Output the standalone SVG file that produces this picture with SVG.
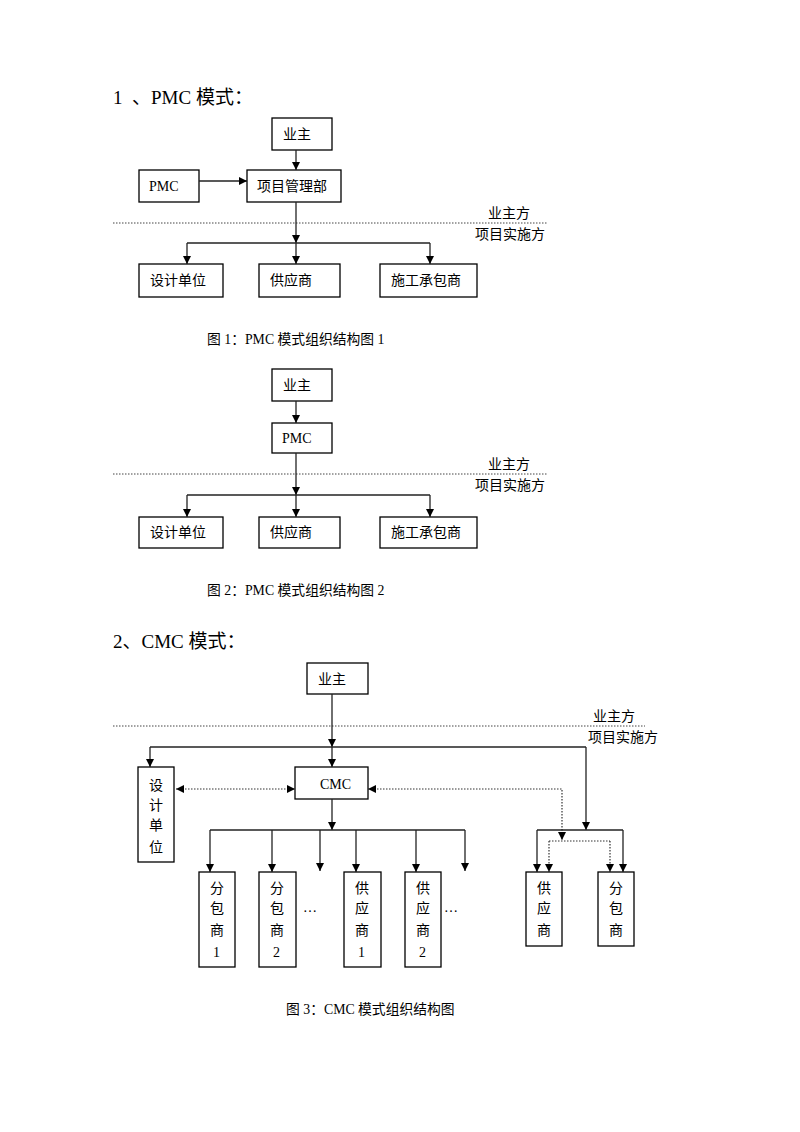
<svg xmlns="http://www.w3.org/2000/svg" width="800" height="1132" viewBox="0 0 800 1132">
<style>
.bx{fill:#fff;stroke:#000;stroke-width:1.3}
.t{font-family:"Liberation Serif","Noto Sans CJK SC",serif;font-size:14px;fill:#000}
.h{font-family:"Liberation Serif","Noto Sans CJK SC",serif;font-size:19px;fill:#000}
.c{font-family:"Liberation Serif","Noto Sans CJK SC",serif;font-size:13.8px;fill:#000}
.ln{fill:none;stroke:#222;stroke-width:1.3}
.dt{fill:none;stroke:#333;stroke-width:1.2;stroke-dasharray:1.5 1.5}
.sep{fill:none;stroke:#444;stroke-width:1;stroke-dasharray:1.5 1.5}
</style>
<defs>
<marker id="ah" viewBox="0 0 10 10" refX="10" refY="5" markerWidth="9" markerHeight="8" orient="auto-start-reverse" markerUnits="userSpaceOnUse"><path d="M0,0L10,5L0,10z" fill="#000"/></marker>
</defs>
<rect width="800" height="1132" fill="#fff"/>

<!-- Figure 1 -->
<text class="h" x="113" y="104" xml:space="preserve">1  、PMC 模式：</text>
<g id="f1-owner"><rect class="bx" x="272" y="118" width="60" height="32"/><text class="t" x="283" y="139">业主</text></g>
<g id="f1-pmc"><rect class="bx" x="139" y="170" width="60" height="32"/><text class="t" x="149" y="191">PMC</text></g>
<g id="f1-dept"><rect class="bx" x="247" y="170" width="94" height="32"/><text class="t" x="257" y="191">项目管理部</text></g>
<g id="f1-design"><rect class="bx" x="139" y="264" width="84" height="33"/><text class="t" x="150" y="285">设计单位</text></g>
<g id="f1-supplier"><rect class="bx" x="259" y="264" width="81" height="33"/><text class="t" x="270" y="285">供应商</text></g>
<g id="f1-contractor"><rect class="bx" x="380" y="264" width="97" height="33"/><text class="t" x="391" y="285">施工承包商</text></g>
<g id="f1-sep">
<path class="sep" d="M113,223H548"/>
<text class="t" x="488" y="218">业主方</text>
<text class="t" x="475" y="239">项目实施方</text>
</g>
<g id="f1-connectors">
<path class="ln" d="M296,150V170" marker-end="url(#ah)"/>
<path class="ln" d="M199,181H247" marker-end="url(#ah)"/>
<path class="ln" d="M296,202V243" marker-end="url(#ah)"/>
<path class="ln" d="M187,243H430"/>
<path class="ln" d="M187,243V264" marker-end="url(#ah)"/>
<path class="ln" d="M296,243V264" marker-end="url(#ah)"/>
<path class="ln" d="M430,243V264" marker-end="url(#ah)"/>
</g>
<text class="c" x="207" y="344">图 1：PMC 模式组织结构图 1</text>

<!-- Figure 2 -->
<g id="f2-owner"><rect class="bx" x="272" y="369" width="60" height="32"/><text class="t" x="283" y="390">业主</text></g>
<g id="f2-pmc"><rect class="bx" x="272" y="423" width="60" height="30"/><text class="t" x="282" y="443">PMC</text></g>
<g id="f2-design"><rect class="bx" x="139" y="517" width="84" height="31"/><text class="t" x="150" y="537">设计单位</text></g>
<g id="f2-supplier"><rect class="bx" x="259" y="517" width="81" height="31"/><text class="t" x="270" y="537">供应商</text></g>
<g id="f2-contractor"><rect class="bx" x="380" y="517" width="97" height="31"/><text class="t" x="391" y="537">施工承包商</text></g>
<g id="f2-sep">
<path class="sep" d="M113,474H548"/>
<text class="t" x="488" y="469">业主方</text>
<text class="t" x="475" y="490">项目实施方</text>
</g>
<g id="f2-connectors">
<path class="ln" d="M296,401V423" marker-end="url(#ah)"/>
<path class="ln" d="M296,453V495" marker-end="url(#ah)"/>
<path class="ln" d="M187,495H430"/>
<path class="ln" d="M187,495V517" marker-end="url(#ah)"/>
<path class="ln" d="M296,495V517" marker-end="url(#ah)"/>
<path class="ln" d="M430,495V517" marker-end="url(#ah)"/>
</g>
<text class="c" x="207" y="595">图 2：PMC 模式组织结构图 2</text>

<!-- Figure 3 -->
<text class="h" x="113" y="648">2、CMC 模式：</text>
<g id="f3-owner"><rect class="bx" x="307" y="663" width="61" height="31"/><text class="t" x="318" y="684">业主</text></g>
<g id="f3-sep">
<path class="sep" d="M113,726H645"/>
<text class="t" x="593" y="721">业主方</text>
<text class="t" x="588" y="742">项目实施方</text>
</g>
<g id="f3-design"><rect class="bx" x="138" y="767" width="36" height="95"/>
<text class="t" x="149" y="790">设</text><text class="t" x="149" y="810">计</text><text class="t" x="149" y="830">单</text><text class="t" x="149" y="852">位</text></g>
<g id="f3-cmc"><rect class="bx" x="295" y="767" width="73" height="32"/><text class="t" x="320" y="789">CMC</text></g>
<g id="f3-sub1"><rect class="bx" x="199" y="872" width="36" height="95"/>
<text class="t" x="210" y="893">分</text><text class="t" x="210" y="913">包</text><text class="t" x="210" y="935">商</text><text class="t" x="213" y="957">1</text></g>
<g id="f3-sub2"><rect class="bx" x="259" y="872" width="37" height="95"/>
<text class="t" x="270" y="893">分</text><text class="t" x="270" y="913">包</text><text class="t" x="270" y="935">商</text><text class="t" x="273" y="957">2</text></g>
<text class="t" x="303" y="912">…</text>
<g id="f3-sup1"><rect class="bx" x="344" y="872" width="37" height="95"/>
<text class="t" x="355" y="893">供</text><text class="t" x="355" y="913">应</text><text class="t" x="355" y="935">商</text><text class="t" x="358" y="957">1</text></g>
<g id="f3-sup2"><rect class="bx" x="405" y="872" width="36" height="95"/>
<text class="t" x="416" y="893">供</text><text class="t" x="416" y="913">应</text><text class="t" x="416" y="935">商</text><text class="t" x="419" y="957">2</text></g>
<text class="t" x="444" y="912">…</text>
<g id="f3-sup"><rect class="bx" x="526" y="872" width="36" height="74"/>
<text class="t" x="537" y="893">供</text><text class="t" x="537" y="913">应</text><text class="t" x="537" y="935">商</text></g>
<g id="f3-sub"><rect class="bx" x="598" y="872" width="36" height="74"/>
<text class="t" x="609" y="893">分</text><text class="t" x="609" y="913">包</text><text class="t" x="609" y="935">商</text></g>
<g id="f3-connectors">
<path class="ln" d="M332,694V747" marker-end="url(#ah)"/>
<path class="ln" d="M332,747V767" marker-end="url(#ah)"/>
<path class="ln" d="M150,747H586"/>
<path class="ln" d="M150,747V767" marker-end="url(#ah)"/>
<path class="ln" d="M586,747V830" marker-end="url(#ah)"/>
<path class="dt" d="M176,789H295" marker-start="url(#ah)" marker-end="url(#ah)"/>
<path class="dt" d="M368,789H562V840" marker-start="url(#ah)" marker-end="url(#ah)"/>
<path class="ln" d="M332,799V830" marker-end="url(#ah)"/>
<path class="ln" d="M210,830H465"/>
<path class="ln" d="M210,830V872" marker-end="url(#ah)"/>
<path class="ln" d="M272,830V872" marker-end="url(#ah)"/>
<path class="ln" d="M320,830V871" marker-end="url(#ah)"/>
<path class="ln" d="M356,830V872" marker-end="url(#ah)"/>
<path class="ln" d="M416,830V872" marker-end="url(#ah)"/>
<path class="ln" d="M465,830V871" marker-end="url(#ah)"/>
<path class="ln" d="M537,830H623"/>
<path class="ln" d="M537,830V872" marker-end="url(#ah)"/>
<path class="ln" d="M623,830V872" marker-end="url(#ah)"/>
<path class="dt" d="M549,841H610"/>
<path class="dt" d="M549,841V872" marker-end="url(#ah)"/>
<path class="dt" d="M610,841V872" marker-end="url(#ah)"/>
</g>
<text class="c" x="286" y="1014">图 3：CMC 模式组织结构图</text>
</svg>
